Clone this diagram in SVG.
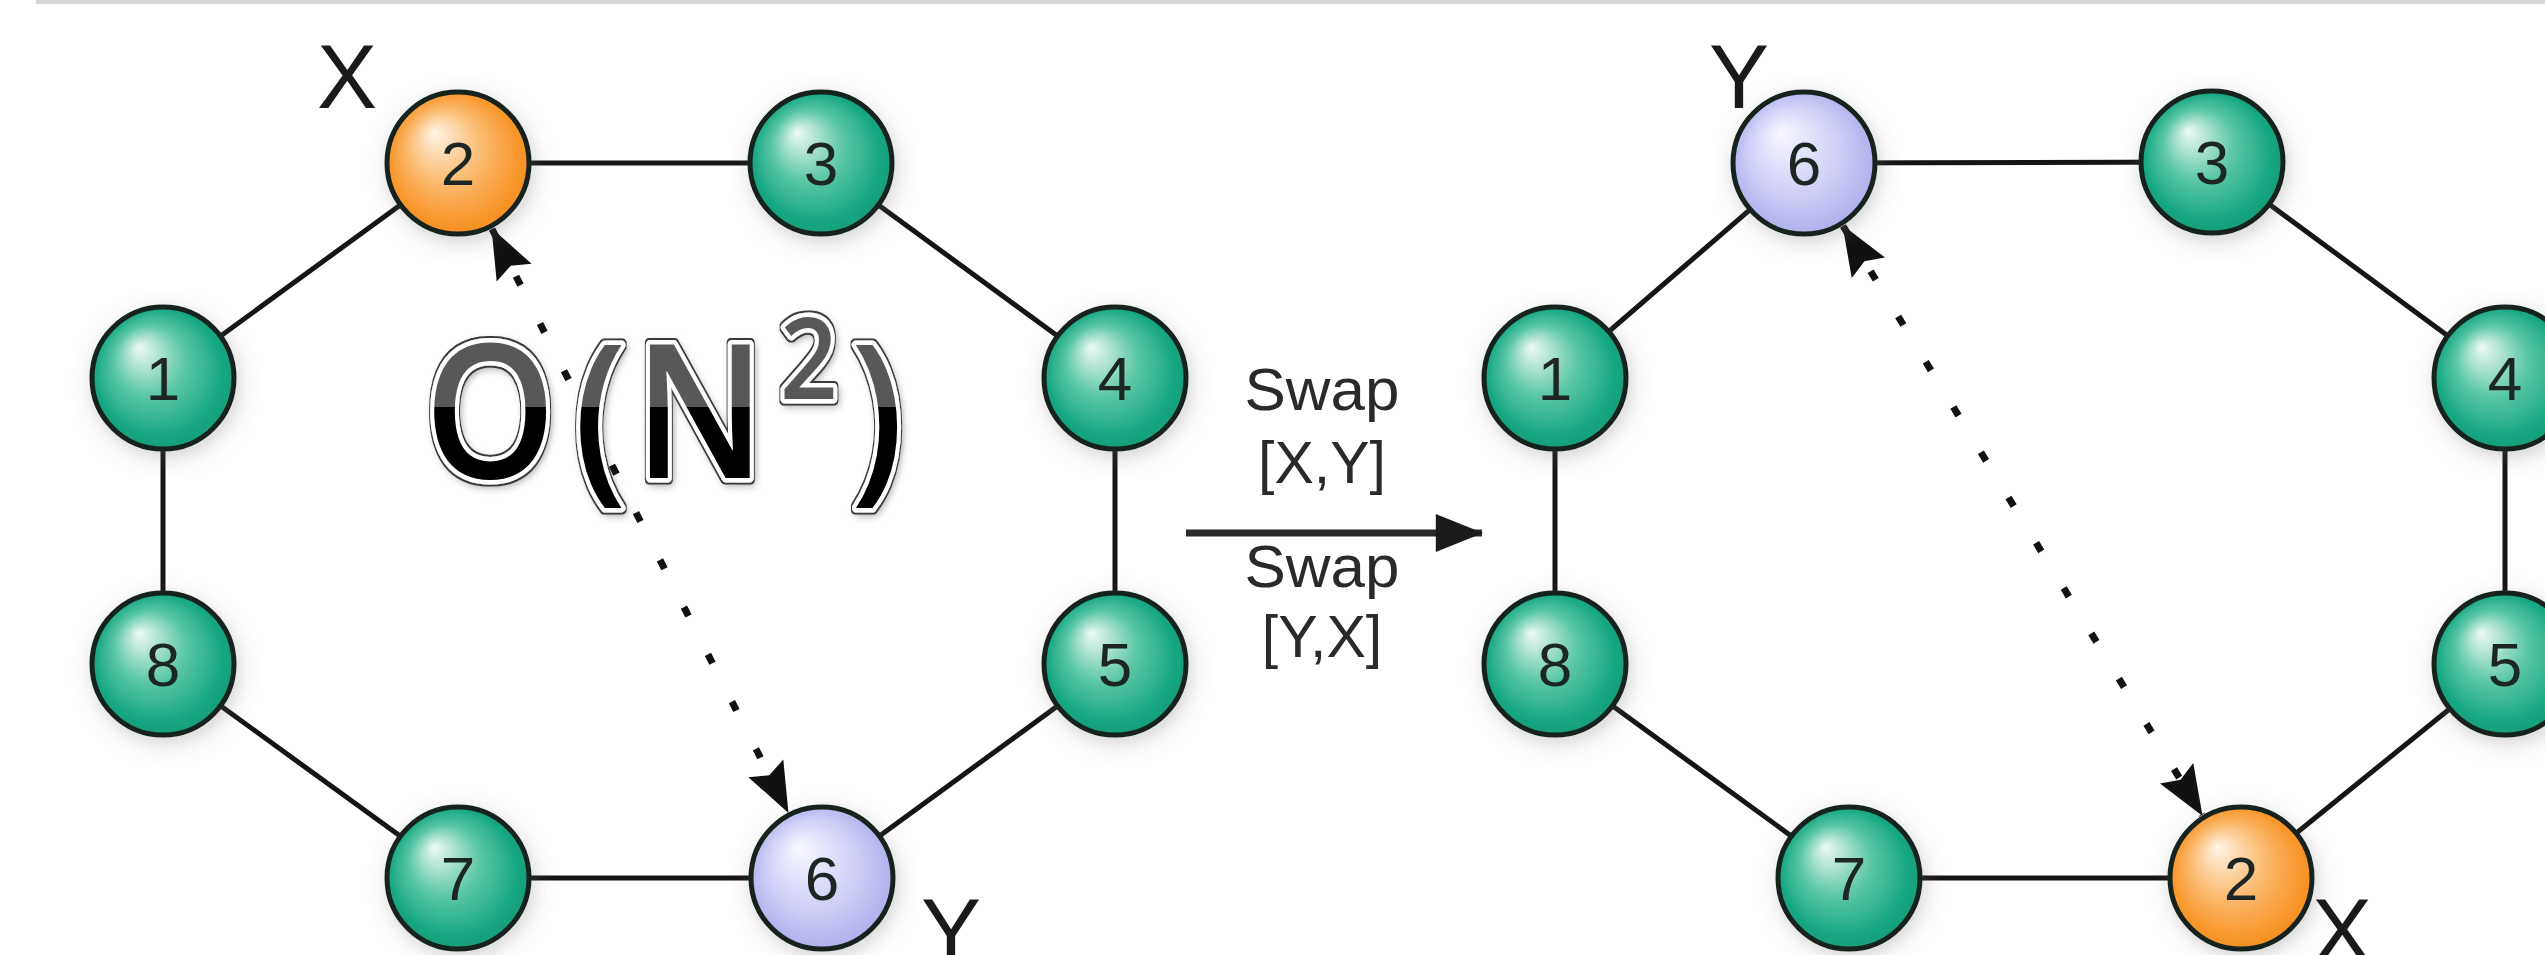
<svg xmlns="http://www.w3.org/2000/svg" width="2545" height="955" viewBox="0 0 2545 955">
<style>
.edge{stroke:#151515;stroke-width:5;fill:none;stroke-linecap:round}
.dot{stroke:#111;stroke-width:7;fill:none;stroke-dasharray:10 43}
.node{stroke:#14231f;stroke-width:5;filter:url(#sh)}
.g{fill:url(#gGreen)}
.o{fill:url(#gOrange)}
.p{fill:url(#gPurple)}
.num{font-family:"Liberation Sans",Arial,sans-serif;font-size:62px;fill:#1c2623;text-anchor:middle}
.lbl{font-family:"Liberation Sans",Arial,sans-serif;font-size:90px;fill:#1a1a1a;text-anchor:middle}
.swap{font-family:"Liberation Sans",Arial,sans-serif;font-size:59px;fill:#2a2a2a;text-anchor:middle}
.big{font-family:"Open Sans","Lato",sans-serif;font-weight:600;font-size:186px;fill:url(#gBig);stroke:#fff;stroke-width:9;stroke-linejoin:round;paint-order:stroke;text-anchor:middle}
</style>
<defs>
<radialGradient id="gGreen" cx="0.5" cy="0.5" r="0.55" fx="0.33" fy="0.28">
<stop offset="0" stop-color="#eef9f5"/>
<stop offset="0.45" stop-color="#5cc7a6"/>
<stop offset="0.8" stop-color="#19a984"/>
<stop offset="1" stop-color="#0f9874"/>
</radialGradient>
<radialGradient id="gOrange" cx="0.5" cy="0.5" r="0.55" fx="0.33" fy="0.28">
<stop offset="0" stop-color="#fff4e4"/>
<stop offset="0.45" stop-color="#fbbd75"/>
<stop offset="0.8" stop-color="#f8992f"/>
<stop offset="1" stop-color="#f38a1c"/>
</radialGradient>
<radialGradient id="gPurple" cx="0.5" cy="0.5" r="0.55" fx="0.33" fy="0.28">
<stop offset="0" stop-color="#f7f7ff"/>
<stop offset="0.5" stop-color="#d5d5f8"/>
<stop offset="1" stop-color="#aaaaec"/>
</radialGradient>
<linearGradient id="gBig" gradientUnits="userSpaceOnUse" x1="0" y1="300" x2="0" y2="530">
<stop offset="0" stop-color="#595959"/>
<stop offset="0.465" stop-color="#595959"/>
<stop offset="0.465" stop-color="#000"/>
<stop offset="1" stop-color="#000"/>
</linearGradient>
<filter id="sh" x="-40%" y="-40%" width="180%" height="180%">
<feDropShadow dx="3" dy="6" stdDeviation="10" flood-color="#6a6a6a" flood-opacity="0.3"/>
</filter>
<filter id="wa" x="-10%" y="-15%" width="120%" height="130%">
<feMorphology in="SourceAlpha" operator="dilate" radius="1.6" result="d"/>
<feFlood flood-color="#3a3a3a"/>
<feComposite in2="d" operator="in" result="outline"/>
<feGaussianBlur in="SourceAlpha" stdDeviation="4" result="b"/>
<feOffset in="b" dx="2" dy="3" result="bo"/>
<feComponentTransfer in="bo" result="shd"><feFuncA type="linear" slope="0.35"/></feComponentTransfer>
<feMerge><feMergeNode in="shd"/><feMergeNode in="outline"/><feMergeNode in="SourceGraphic"/></feMerge>
</filter>
<marker id="ah" markerUnits="userSpaceOnUse" markerWidth="50" markerHeight="40" viewBox="0 0 46 36" refX="45" refY="18" orient="auto-start-reverse">
<path d="M0,0 L46,18 L0,36 L7,18 z" fill="#111"/>
</marker>
<marker id="ah2" markerUnits="userSpaceOnUse" markerWidth="48" markerHeight="38" viewBox="0 0 46 37" refX="45" refY="18.5" orient="auto">
<path d="M0,0 L46,18.5 L0,37 z" fill="#1a1a1a"/>
</marker>
</defs>
<rect x="0" y="0" width="2545" height="955" fill="#fff"/>
<rect x="36" y="0" width="2509" height="4" fill="#d6d6d6"/>

<g id="connectors">
<line class="edge" x1="458" y1="163" x2="821" y2="163"/>
<line class="edge" x1="458" y1="163" x2="163" y2="378"/>
<line class="edge" x1="821" y1="163" x2="1115" y2="378"/>
<line class="edge" x1="163" y1="378" x2="163" y2="664"/>
<line class="edge" x1="1115" y1="378" x2="1115" y2="664"/>
<line class="edge" x1="163" y1="664" x2="458" y2="878"/>
<line class="edge" x1="458" y1="878" x2="822" y2="878"/>
<line class="edge" x1="822" y1="878" x2="1115" y2="664"/>
<line class="edge" x1="1804" y1="163" x2="2212" y2="162"/>
<line class="edge" x1="1804" y1="163" x2="1555" y2="378"/>
<line class="edge" x1="2212" y1="162" x2="2505" y2="378"/>
<line class="edge" x1="1555" y1="378" x2="1555" y2="664"/>
<line class="edge" x1="2505" y1="378" x2="2505" y2="664"/>
<line class="edge" x1="1555" y1="664" x2="1849" y2="878"/>
<line class="edge" x1="1849" y1="878" x2="2241" y2="878"/>
<line class="edge" x1="2241" y1="878" x2="2505" y2="664"/>
<line class="dot" x1="492" y1="229" x2="788" y2="812" marker-start="url(#ah)" marker-end="url(#ah)"/>
<line class="dot" x1="1843" y1="226" x2="2202" y2="815" marker-start="url(#ah)" marker-end="url(#ah)"/>
<line x1="1186" y1="533" x2="1482" y2="533" stroke="#2a2a2a" stroke-width="7" marker-end="url(#ah2)"/>
</g>

<g id="node-L2"><circle class="node o" cx="458" cy="163" r="71"/><text class="num" x="458" y="185">2</text></g>
<g id="node-L3"><circle class="node g" cx="821" cy="163" r="71"/><text class="num" x="821" y="185">3</text></g>
<g id="node-L1"><circle class="node g" cx="163" cy="378" r="71"/><text class="num" x="163" y="400">1</text></g>
<g id="node-L4"><circle class="node g" cx="1115" cy="378" r="71"/><text class="num" x="1115" y="400">4</text></g>
<g id="node-L8"><circle class="node g" cx="163" cy="664" r="71"/><text class="num" x="163" y="686">8</text></g>
<g id="node-L5"><circle class="node g" cx="1115" cy="664" r="71"/><text class="num" x="1115" y="686">5</text></g>
<g id="node-L7"><circle class="node g" cx="458" cy="878" r="71"/><text class="num" x="458" y="900">7</text></g>
<g id="node-L6"><circle class="node p" cx="822" cy="878" r="71"/><text class="num" x="822" y="900">6</text></g>

<g id="node-R6"><circle class="node p" cx="1804" cy="163" r="71"/><text class="num" x="1804" y="185">6</text></g>
<g id="node-R3"><circle class="node g" cx="2212" cy="162" r="71"/><text class="num" x="2212" y="184">3</text></g>
<g id="node-R1"><circle class="node g" cx="1555" cy="378" r="71"/><text class="num" x="1555" y="400">1</text></g>
<g id="node-R4"><circle class="node g" cx="2505" cy="378" r="71"/><text class="num" x="2505" y="400">4</text></g>
<g id="node-R8"><circle class="node g" cx="1555" cy="664" r="71"/><text class="num" x="1555" y="686">8</text></g>
<g id="node-R5"><circle class="node g" cx="2505" cy="664" r="71"/><text class="num" x="2505" y="686">5</text></g>
<g id="node-R7"><circle class="node g" cx="1849" cy="878" r="71"/><text class="num" x="1849" y="900">7</text></g>
<g id="node-R2"><circle class="node o" cx="2241" cy="878" r="71"/><text class="num" x="2241" y="900">2</text></g>

<g id="labels">
<text class="lbl" x="347" y="108">X</text>
<text class="lbl" x="951" y="962">Y</text>
<text class="lbl" x="1739" y="108">Y</text>
<text class="lbl" x="2342" y="962">X</text>
<text class="swap" x="1322" y="410" textLength="155" lengthAdjust="spacingAndGlyphs">Swap</text>
<text class="swap" x="1322" y="483">[X,Y]</text>
<text class="swap" x="1322" y="587" textLength="155" lengthAdjust="spacingAndGlyphs">Swap</text>
<text class="swap" x="1322" y="657">[Y,X]</text>
</g>

<g id="title" transform="translate(663,0) scale(0.9,1) translate(-663,0)">
<text class="big" filter="url(#wa)"><tspan x="471" y="478">O</tspan><tspan x="593" y="478">(</tspan><tspan x="704" y="478">N</tspan><tspan x="825" y="399" font-size="112">2</tspan><tspan x="901" y="478">)</tspan></text>
</g>
</svg>
